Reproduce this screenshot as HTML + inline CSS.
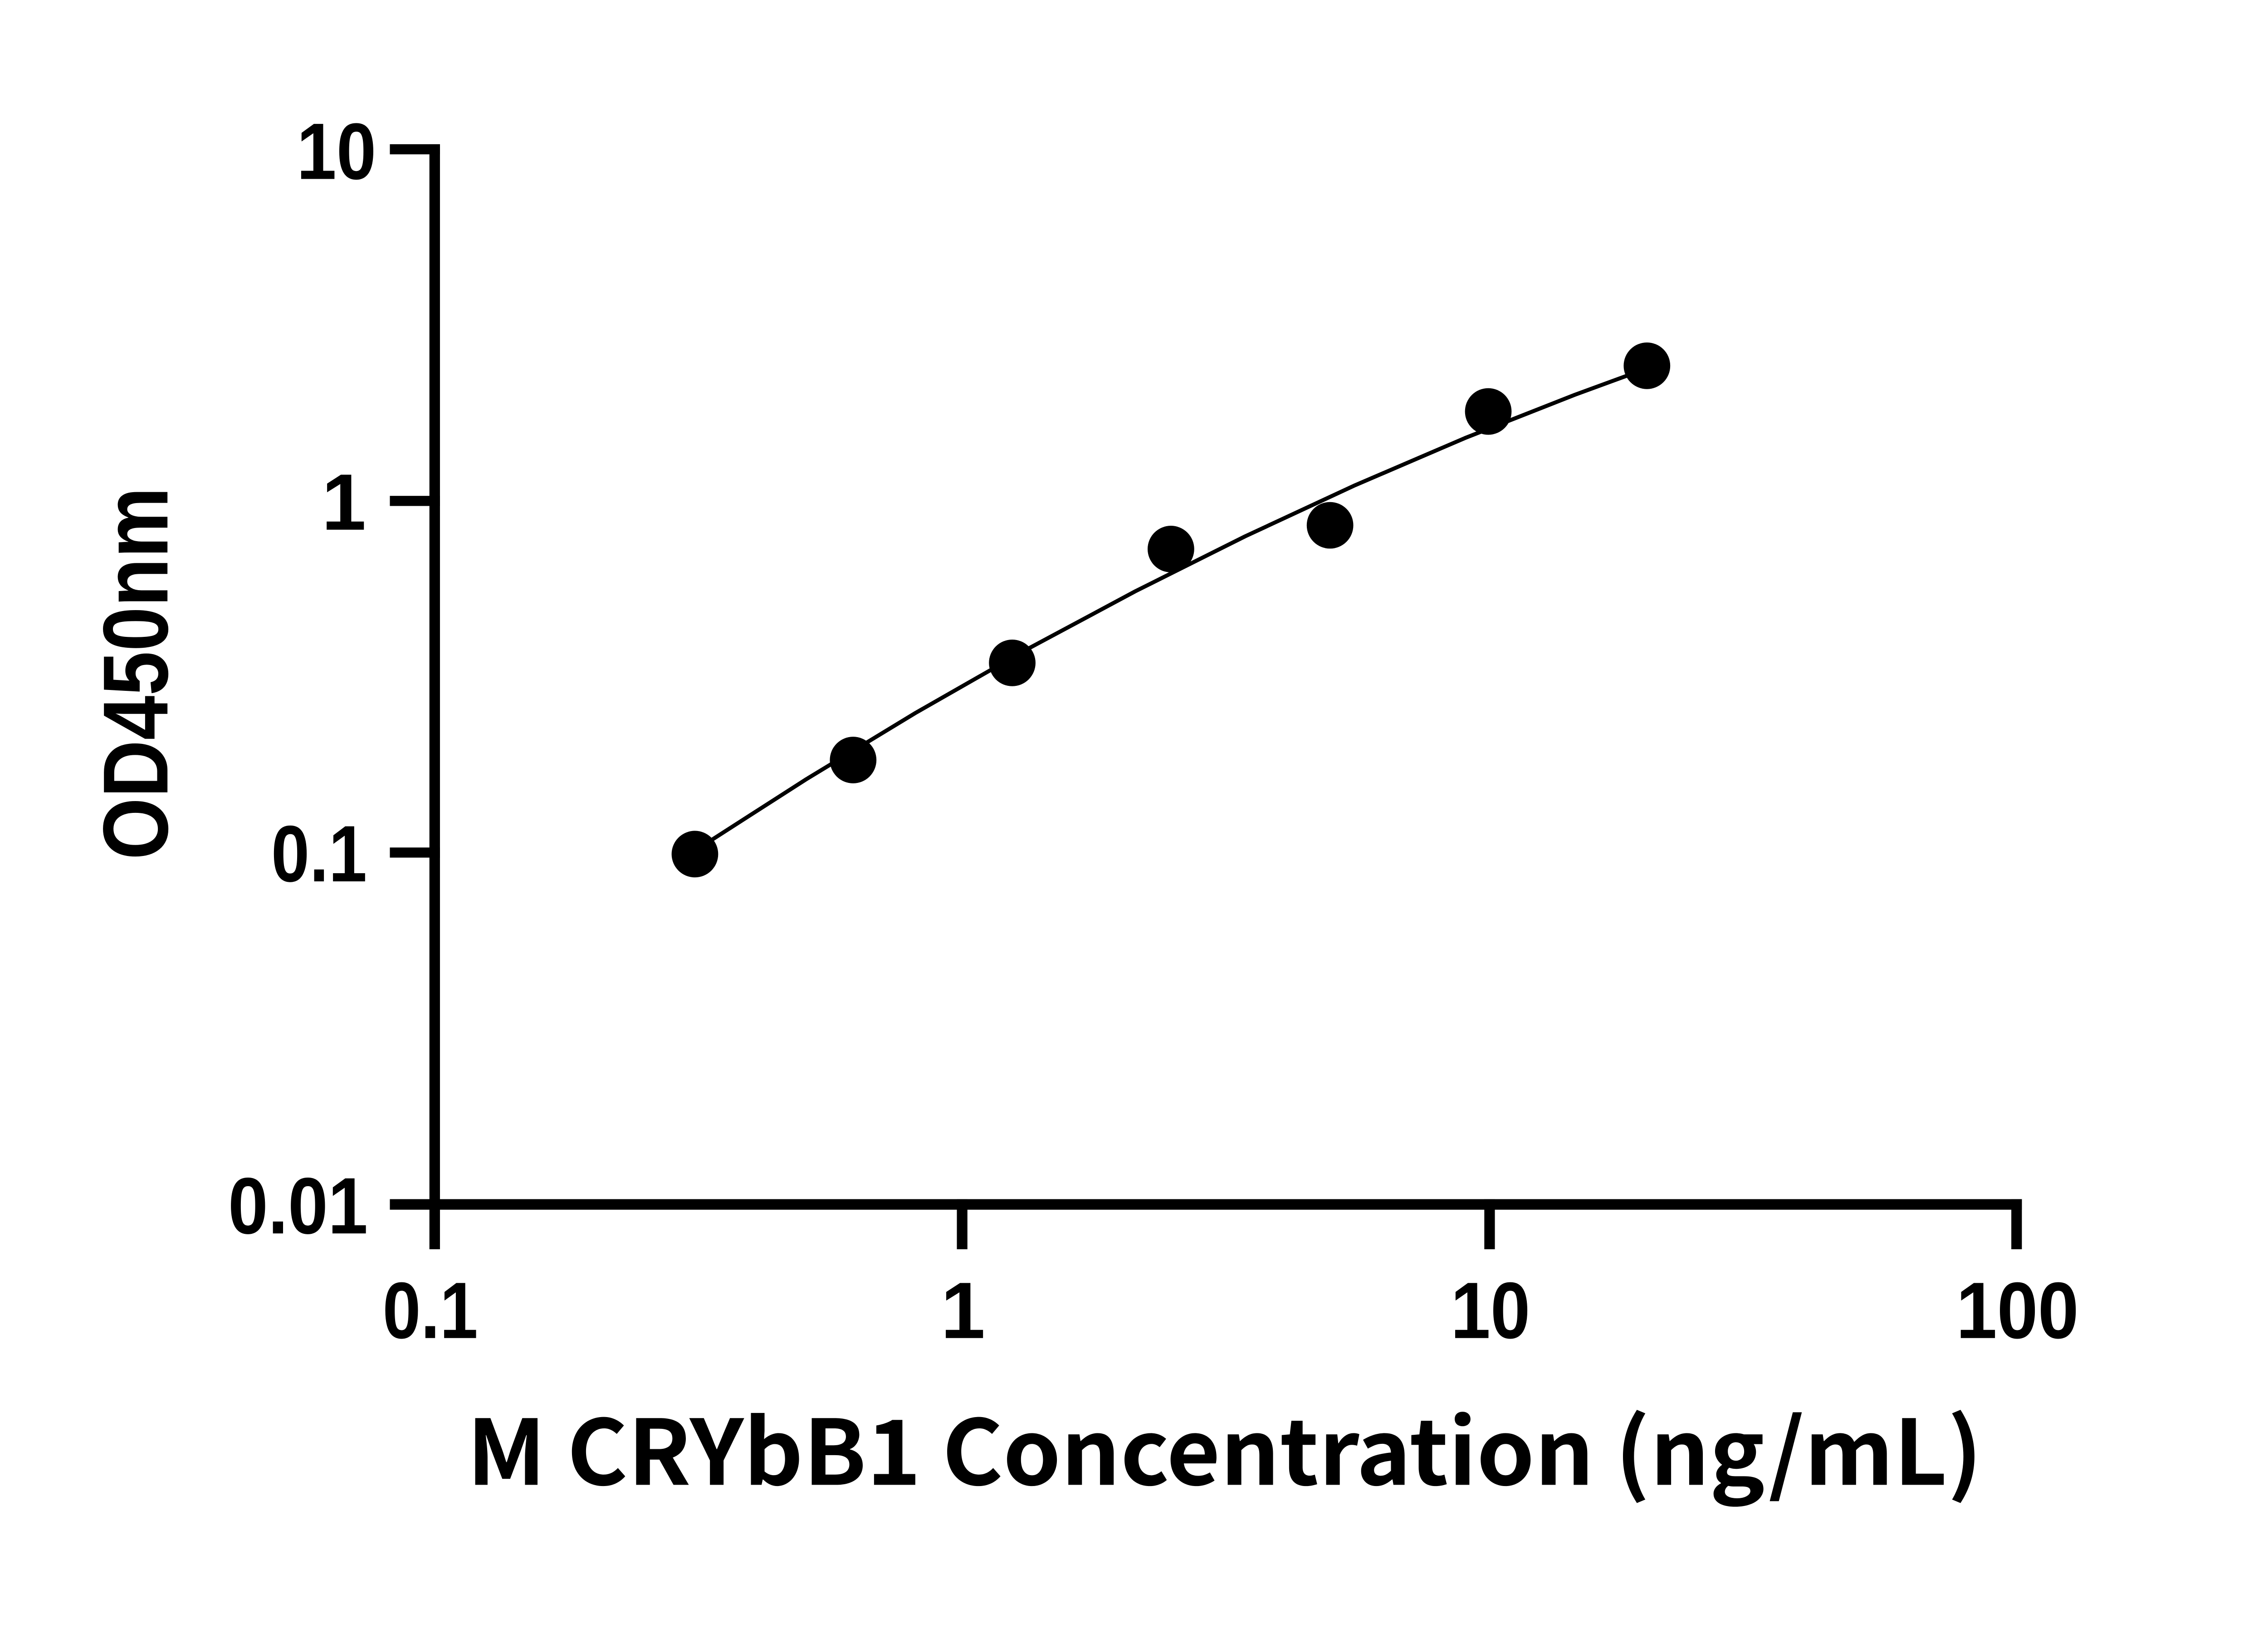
<!DOCTYPE html>
<html><head><meta charset="utf-8"><style>html,body{margin:0;padding:0;background:#fff}svg{display:block}</style></head>
<body>
<svg width="5142" height="3600" viewBox="0 0 5142 3600" xmlns="http://www.w3.org/2000/svg">
<rect width="5142" height="3600" fill="#fff"/>
<g transform="matrix(0.969 0 0 0.969 -1 4)">
<g fill="#000">
<rect x="978" y="324" width="24" height="2424"/>
<rect x="888" y="324" width="114" height="23"/>
<rect x="888" y="1124" width="114" height="23"/>
<rect x="888" y="1924" width="114" height="23"/>
<rect x="888" y="2724" width="114" height="24"/>
<rect x="978" y="2724" width="3623" height="24"/>
<rect x="978" y="2724" width="24" height="114"/>
<rect x="2178" y="2724" width="24" height="114"/>
<rect x="3378" y="2724" width="24" height="114"/>
<rect x="4577" y="2724" width="24" height="114"/>
</g>
<g font-family="Liberation Sans, Arial, sans-serif" font-weight="bold" font-size="182" fill="#000">
<text x="857" y="403" text-anchor="end" textLength="181" lengthAdjust="spacingAndGlyphs">10</text>
<text x="834" y="1201" text-anchor="end">1</text>
<text x="836" y="2001" text-anchor="end" textLength="218" lengthAdjust="spacingAndGlyphs">0.1</text>
<text x="838" y="2802" text-anchor="end" textLength="318" lengthAdjust="spacingAndGlyphs">0.01</text>
<text x="980" y="3040" text-anchor="middle" textLength="217" lengthAdjust="spacingAndGlyphs">0.1</text>
<text x="2192" y="3040" text-anchor="middle">1</text>
<text x="3392" y="3040" text-anchor="middle" textLength="181" lengthAdjust="spacingAndGlyphs">10</text>
<text x="4591" y="3040" text-anchor="middle" textLength="279" lengthAdjust="spacingAndGlyphs">100</text>
<text transform="translate(382,1528) rotate(-90)" x="0" y="0" text-anchor="middle" font-size="210" textLength="848" lengthAdjust="spacingAndGlyphs">OD450nm</text>
</g>
<text x="1063" y="3374" font-family="Noto Sans CJK SC, DejaVu Sans, sans-serif" font-weight="bold" font-size="205" textLength="3448" lengthAdjust="spacingAndGlyphs">M CRYbB1 Concentration (ng/mL)</text>
<polyline points="1584,1930 1834,1769.5 2084,1617.8 2334,1475 2584,1341.1 2834,1216 3084,1099.8 3334,992.5 3584,894 3748,834" fill="none" stroke="#000" stroke-width="9" stroke-linejoin="round"/>
<g fill="#000">
<circle cx="1582" cy="1939" r="53"/>
<circle cx="1942" cy="1725" r="53"/>
<circle cx="2304" cy="1504" r="53"/>
<circle cx="2665" cy="1245" r="53"/>
<circle cx="3027" cy="1191" r="53"/>
<circle cx="3387" cy="932" r="53"/>
<circle cx="3748" cy="828" r="53"/>
</g>
</g>
</svg>
</body></html>
